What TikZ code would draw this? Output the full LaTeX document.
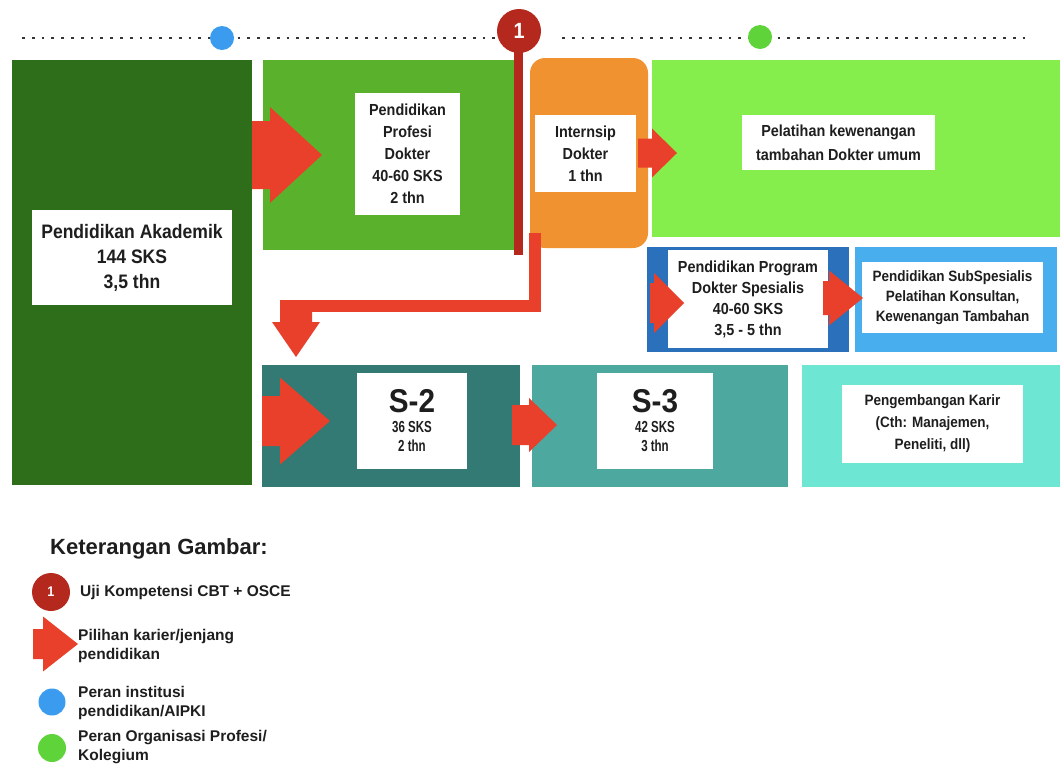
\documentclass[tikz,border=0pt]{standalone}
\usepackage{fontspec}
\setmainfont{Liberation Sans}[FakeStretch=0.9]
\newfontfamily\legfont{Liberation Sans}
\newfontfamily\slimfont{Liberation Sans}[FakeStretch=0.72]
\definecolor{akadgreen}{HTML}{2E6E1B}
\definecolor{profgreen}{HTML}{5AB22C}
\definecolor{internorange}{HTML}{F0922F}
\definecolor{pelatgreen}{HTML}{86EE4C}
\definecolor{spesblue}{HTML}{2B70BA}
\definecolor{subblue}{HTML}{48AEEE}
\definecolor{sduateal}{HTML}{327A73}
\definecolor{stigateal}{HTML}{4DA89F}
\definecolor{karirteal}{HTML}{6DE6D3}
\definecolor{arrowred}{HTML}{E8402A}
\definecolor{ujired}{HTML}{B5281E}
\definecolor{dotblue}{HTML}{3A9BEF}
\definecolor{dotgreen}{HTML}{5ED33A}
\definecolor{txtgray}{HTML}{1E1E1E}
\tikzset{
	panel/.style={rectangle, draw=none, inner sep=0pt},
	txtbox/.style={rectangle, fill=white, inner sep=0pt, align=center, text=txtgray,
		font=\bfseries\fontsize{16}{22}\selectfont},
	dotline/.style={draw=txtgray!90, line width=2.8pt, dash pattern=on 2.8pt off 7pt},
	legtext/.style={anchor=west, align=left, inner sep=0pt, text=txtgray,
		font=\legfont\bfseries\fontsize{15.5}{19}\selectfont},
	% block arrow: length, shaft half width, head half width, head length
	pics/bigarrow/.style n args={4}{code={
		\fill [arrowred] (0,{-#2}) -- ({#1-#4},{-#2}) -- ({#1-#4},{-#3}) -- (#1,0)
			-- ({#1-#4},#3) -- ({#1-#4},#2) -- (0,#2) -- cycle;
	}}
}

\begin{document}
\begin{tikzpicture}[x=1pt,y=1pt,yscale=-1,xscale=1]
\useasboundingbox (0,0) rectangle (1064,769);

% timeline
\coordinate (tlA) at (22,38);
\coordinate (tlB) at (497,38);
\coordinate (tlC) at (562,38);
\coordinate (tlD) at (1032,38);
\draw [dotline] (tlA) -- (tlB);
\draw [dotline] (tlC) -- (tlD);
\draw (222,38) node [circle, fill=dotblue, minimum size=24, inner sep=0pt] (institusi) {};
\draw (760,37) node [circle, fill=dotgreen, minimum size=24, inner sep=0pt] (kolegium) {};

% panels
\draw (132,272.5) node [panel, fill=akadgreen, minimum width=240, minimum height=425] (akad) {};
\draw (389,155) node [panel, fill=profgreen, minimum width=252, minimum height=190] (prof) {};
\draw (589,153) node [panel, fill=internorange, rounded corners=15, minimum width=118, minimum height=190] (intern) {};
\draw (856,148.5) node [panel, fill=pelatgreen, minimum width=408, minimum height=177] (pelat) {};
\draw (748,299.5) node [panel, fill=spesblue, minimum width=202, minimum height=105] (spes) {};
\draw (956,299.5) node [panel, fill=subblue, minimum width=202, minimum height=105] (subsp) {};
\draw (391,426) node [panel, fill=sduateal, minimum width=258, minimum height=122] (sdua) {};
\draw (660,426) node [panel, fill=stigateal, minimum width=256, minimum height=122] (stiga) {};
\draw (931,426) node [panel, fill=karirteal, minimum width=258, minimum height=122] (karir) {};

% uji kompetensi
\coordinate (ujitop) at (518,32);
\coordinate (ujiend) at (518,255);
\draw [ujired, line width=9] (ujitop) -- (ujiend);
\draw (519,31) node [circle, fill=ujired, minimum size=44, inner sep=0pt, text=white,
	font=\bfseries\fontsize{22}{22}\selectfont] (uji) {1};

% white labels
\draw (132,257.5) node [txtbox, minimum width=200, minimum height=95,
	font=\bfseries\fontsize{19.5}{25}\selectfont] (akadtxt) {Pendidikan Akademik\\144 SKS\\3,5 thn};
\draw (407.5,154) node [txtbox, minimum width=105, minimum height=122] (proftxt)
	{Pendidikan\\Profesi\\Dokter\\40-60 SKS\\2 thn};
\draw (585.5,153.5) node [txtbox, minimum width=101, minimum height=77] (interntxt)
	{Internsip\\Dokter\\1 thn};
\draw (838.5,142.5) node [txtbox, minimum width=193, minimum height=55,
	font=\bfseries\fontsize{16}{24}\selectfont] (pelattxt) {Pelatihan kewenangan\\tambahan Dokter umum};
\draw (748,299) node [txtbox, minimum width=160, minimum height=98,
	font=\bfseries\fontsize{16}{21}\selectfont] (spestxt)
	{Pendidikan Program\\Dokter Spesialis\\40-60 SKS\\3,5 - 5 thn};
\draw (952.5,297.5) node [txtbox, minimum width=181, minimum height=71,
	font=\bfseries\fontsize{15}{20}\selectfont] (subsptxt)
	{Pendidikan SubSpesialis\\Pelatihan Konsultan,\\Kewenangan Tambahan};
\draw (412,421) node [txtbox, minimum width=110, minimum height=96,
	font=\slimfont\bfseries\fontsize{16}{19}\selectfont] (sduatxt)
	{{\rmfamily\fontsize{33}{34}\selectfont S-2}\\[1pt]36 SKS\\2 thn};
\draw (655,421) node [txtbox, minimum width=116, minimum height=96,
	font=\slimfont\bfseries\fontsize{16}{19}\selectfont] (stigatxt)
	{{\rmfamily\fontsize{33}{34}\selectfont S-3}\\[1pt]42 SKS\\3 thn};
\draw (932.5,424) node [txtbox, minimum width=181, minimum height=78,
	font=\bfseries\fontsize{15}{22}\selectfont] (karirtxt)
	{Pengembangan Karir\\(Cth: Manajemen,\\Peneliti, dll)};

% pilihan arrows
\pic at (252,155) {bigarrow={70}{34}{48}{52}};
\pic at (638,153) {bigarrow={39}{14.5}{24.5}{25}};
\pic at (650,303) {bigarrow={34}{20}{30}{30}};
\pic at (823,298) {bigarrow={40}{17}{27.5}{34}};
\pic at (262,421) {bigarrow={68}{25}{43.5}{50}};
\pic at (512,425) {bigarrow={45}{20}{27}{28}};

% jalur ke S-2
\coordinate (jalurA) at (535,233);
\coordinate (jalurB) at (296,306);
\draw [arrowred, line width=12] (jalurA) |- (jalurB);
\pic [rotate=-90] at (296,300) {bigarrow={57}{16}{24}{35}};

% legenda
\draw (50,549) node [anchor=west, inner sep=0pt, text=txtgray,
	font=\legfont\bfseries\fontsize{22}{22}\selectfont] (legtitle) {Keterangan Gambar:};
\draw (51,592) node [circle, fill=ujired, minimum size=38, inner sep=0pt, text=white,
	font=\bfseries\fontsize{14}{14}\selectfont] (legujii) {1};
\draw (80,592) node [legtext] (legujitxt) {Uji Kompetensi CBT + OSCE};
\pic at (33,644) {bigarrow={45}{15}{27.5}{35}};
\draw (78,646) node [legtext] (legpilihtxt) {Pilihan karier/jenjang\\pendidikan};
\draw (52,702) node [circle, fill=dotblue, minimum size=27, inner sep=0pt] (leginst) {};
\draw (78,703) node [legtext] (leginsttxt) {Peran institusi\\pendidikan/AIPKI};
\draw (52,748) node [circle, fill=dotgreen, minimum size=28, inner sep=0pt] (legkol) {};
\draw (78,747) node [legtext] (legkoltxt) {Peran Organisasi Profesi/\\Kolegium};
\end{tikzpicture}
\end{document}
